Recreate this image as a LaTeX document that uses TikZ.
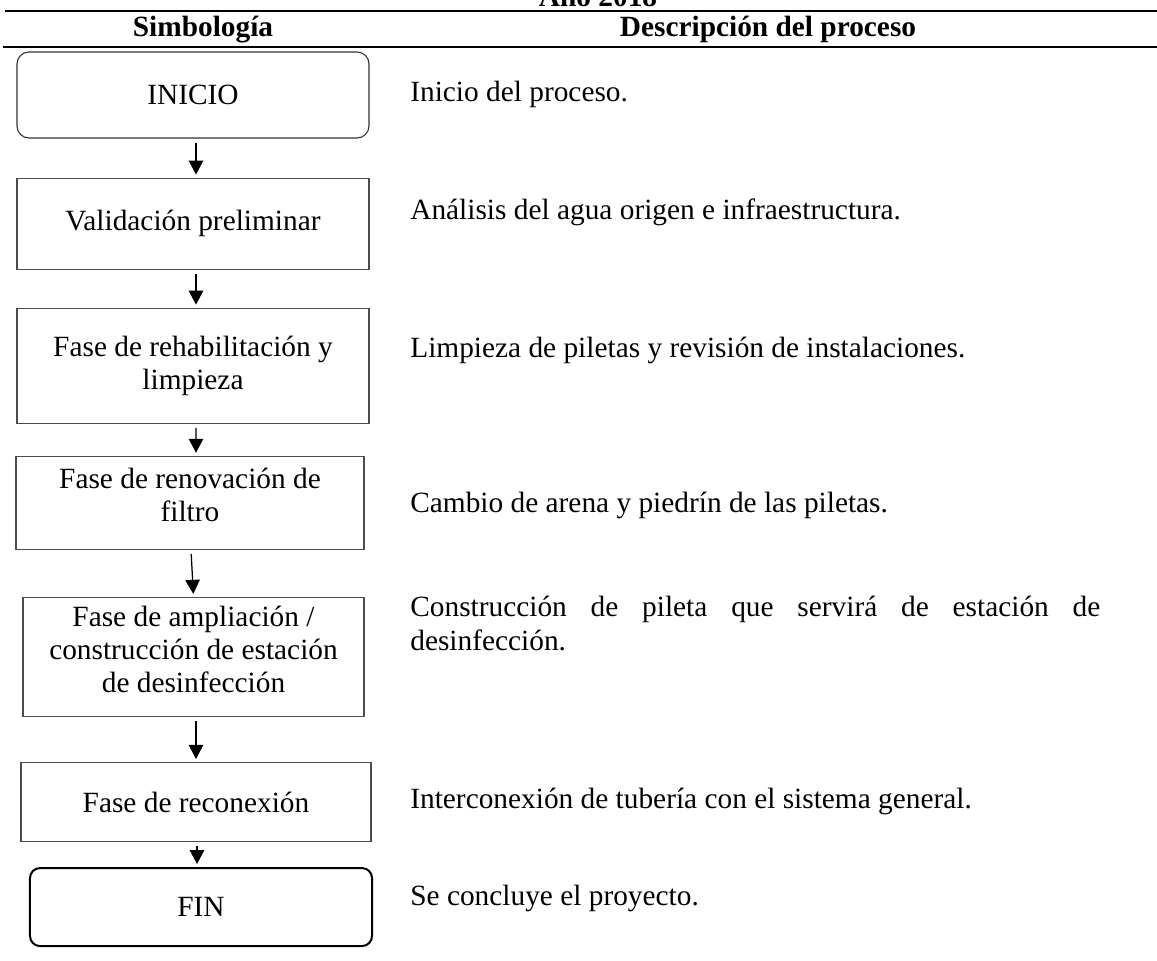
\documentclass[tikz,border=0pt]{standalone}
\usepackage{fontspec}
\setmainfont{Liberation Serif}
\usetikzlibrary{positioning,arrows.meta}
\newcommand{\tamano}{\fontsize{16.7}{18.8}\selectfont}
\newcommand{\bajo}[1]{\rule[-#1]{0pt}{#1}}
\tikzset{
caja/.style={draw=black!70,line width=0.22mm,align=center,inner sep=0pt,font=\tamano},
inicio/.style={caja,draw=black!80,rounded corners=2.4mm},
fin/.style={caja,draw=black,line width=0.4mm,rounded corners=2mm},
desc/.style={anchor=base west,inner sep=0pt,align=left,font=\tamano},
cab/.style={anchor=base,inner sep=0pt,font=\tamano\bfseries},
flecha/.style={-{Triangle[width=2.9mm,length=2.8mm]},line width=0.25mm,shorten <=0.8mm,shorten >=0.6mm},
regla/.style={line width=0.45mm}
}
\begin{document}
\begin{tikzpicture}[x=0.2mm,y=-0.2mm]
\useasboundingbox(0,0)rectangle(1157,961);
\node[cab](h0) at (598,7){Año 2018};
\node[cab](h1) at (203,37){Simbología};
\node[cab](h2) at (768,37){Descripción del proceso};
\draw[regla](5,11)--(1157,11);
\draw[regla](3,47)--(1157,47);

\node[inicio,minimum width=70.4mm,minimum height=17.2mm](b1) at (193,95){INICIO};
\node[caja,minimum width=70.4mm,minimum height=18.2mm,below=7.8mm of b1](b2){Validación preliminar};
\node[caja,minimum width=70.4mm,minimum height=23mm,below=7.6mm of b2](b3){Fase de rehabilitación y\\limpieza};
\node[caja,minimum width=69.6mm,minimum height=18.6mm,below=6.4mm of b3,xshift=-0.6mm](b4){Fase de renovación de\\filtro\bajo{3.2mm}};
\node[caja,minimum width=68.2mm,minimum height=23.8mm,below=9.4mm of b4,xshift=0.7mm](b5){Fase de ampliación /\\construcción de estación\\de desinfección\bajo{3mm}};
\node[caja,minimum width=70mm,minimum height=15.8mm,below=9mm of b5,xshift=0.5mm](b6){Fase de reconexión};
\node[fin,minimum width=68.4mm,minimum height=15.6mm,below=5mm of b6,xshift=1mm](b7){FIN};

\draw[flecha]([xshift=0.6mm]b1.south)--([xshift=0.6mm]b2.north);
\draw[flecha]([xshift=0.6mm]b2.south)--([xshift=0.6mm]b3.north);
\draw[flecha]([xshift=0.6mm]b3.south)--([xshift=1.2mm]b4.north);
\draw[flecha]([xshift=0.2mm]b4.south)--(b5.north);
\draw[flecha]([xshift=0.5mm]b5.south)--(b6.north);
\draw[flecha]([xshift=0.2mm]b6.south)--([xshift=-0.8mm]b7.north);

\node[desc](d1) at (410,101){Inicio del proceso.};
\node[desc](d2) at (410,219){Análisis del agua origen e infraestructura.};
\node[desc](d3) at (410,357){Limpieza de piletas y revisión de instalaciones.};
\node[desc](d4) at (410,512){Cambio de arena y piedrín de las piletas.};
\node[desc](d5) at (410,650){\makebox[138mm][s]{Construcción de pileta que servirá de estación de}\\desinfección.};
\node[desc](d6) at (410,808){Interconexión de tubería con el sistema general.};
\node[desc](d7) at (410,905){Se concluye el proyecto.};
\end{tikzpicture}
\end{document}
